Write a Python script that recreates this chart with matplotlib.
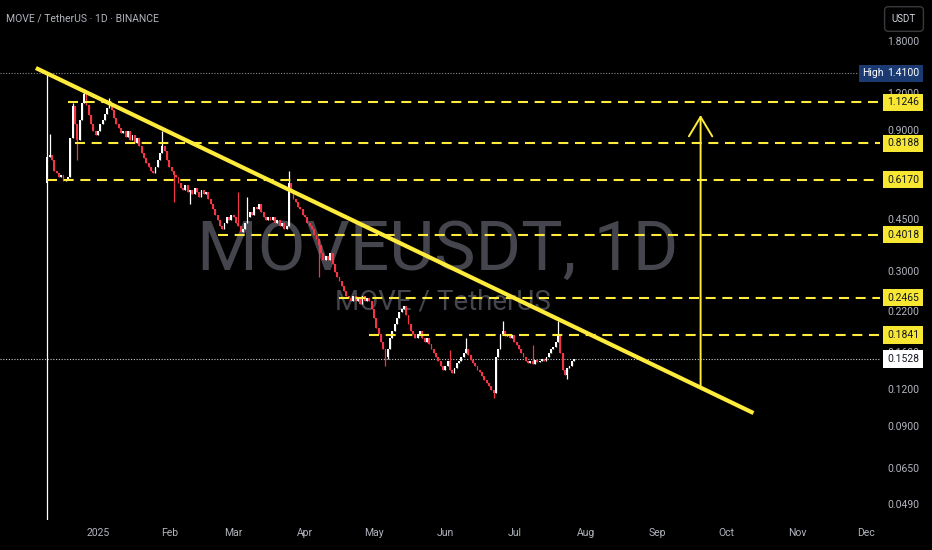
import datetime as dt
import matplotlib
matplotlib.use("Agg")
import matplotlib.pyplot as plt
import matplotlib.dates as mdates
import matplotlib.ticker as mticker

ui_font = ['Liberation Sans Narrow', 'Roboto', 'DejaVu Sans']
plt.rcParams['font.family'] = ui_font

# ---- data (daily MOVE/USDT) ----
start_date = dt.date(2024, 12, 10)
first_open = 0.60
closes = [
    0.736, 0.75, 0.72, 0.66, 0.65, 0.63, 0.64, 0.61, 0.62, 0.63,
    0.85, 1.09, 0.95, 0.84, 0.98, 1.12, 1.20, 1.10, 1.02, 0.95,
    0.90, 0.87, 0.90, 0.95, 0.98, 1.03, 1.08, 1.12, 1.06, 1.00,
    0.95, 0.92, 0.89, 0.90, 0.86, 0.90, 0.84, 0.87, 0.82, 0.85,
    0.80, 0.76, 0.73, 0.70, 0.68, 0.66, 0.65, 0.68, 0.72, 0.76,
    0.80, 0.77, 0.72, 0.68, 0.66, 0.64, 0.63, 0.60, 0.58, 0.57,
    0.59, 0.56, 0.57, 0.55, 0.58, 0.56, 0.54, 0.57, 0.55, 0.56,
    0.53, 0.51, 0.49, 0.47, 0.45, 0.43, 0.42, 0.44, 0.46, 0.45,
    0.47, 0.46, 0.44, 0.43, 0.41, 0.42, 0.44, 0.46, 0.48, 0.47,
    0.50, 0.49, 0.51, 0.48, 0.46, 0.45, 0.46, 0.45, 0.46, 0.44,
    0.45, 0.43, 0.44, 0.42, 0.43, 0.60, 0.56, 0.53, 0.52, 0.50,
    0.49, 0.47, 0.46, 0.44, 0.43, 0.42, 0.40, 0.39, 0.37, 0.35,
    0.33, 0.34, 0.33, 0.35, 0.32, 0.30, 0.29, 0.28, 0.27, 0.26,
    0.25, 0.245, 0.24, 0.25, 0.24, 0.245, 0.235, 0.25, 0.24, 0.245,
    0.24, 0.225, 0.21, 0.195, 0.185, 0.175, 0.165, 0.155, 0.165, 0.18,
    0.19, 0.20, 0.21, 0.22, 0.225, 0.23, 0.215, 0.20, 0.19, 0.185,
    0.18, 0.185, 0.19, 0.18, 0.175, 0.18, 0.172, 0.165, 0.16, 0.155,
    0.15, 0.145, 0.14, 0.145, 0.15, 0.14, 0.137, 0.142, 0.148, 0.15,
    0.155, 0.16, 0.165, 0.158, 0.152, 0.148, 0.145, 0.14, 0.138, 0.134,
    0.13, 0.127, 0.124, 0.12, 0.117, 0.155, 0.165, 0.185, 0.19, 0.183,
    0.185, 0.18, 0.184, 0.175, 0.17, 0.165, 0.16, 0.155, 0.15, 0.148,
    0.15, 0.147, 0.152, 0.149, 0.15, 0.153, 0.151, 0.155, 0.16, 0.165,
    0.168, 0.175, 0.186, 0.16, 0.14, 0.135, 0.142, 0.145, 0.150, 0.1528,
]
# visible wicks (day index -> price)
wick_high = {0: 1.41, 1: 0.88, 11: 1.12, 16: 1.25, 27: 1.16, 50: 0.90,
             83: 0.56, 87: 0.54, 105: 0.66, 175: 0.164, 182: 0.18,
             198: 0.205, 211: 0.171, 222: 0.205}
wick_low = {0: 0.040, 13: 0.72, 55: 0.52, 62: 0.51, 118: 0.29,
            147: 0.145, 148: 0.153, 194: 0.113, 226: 0.131}

levels = [1.1246, 0.8188, 0.6170, 0.4018, 0.2465, 0.1841]
level_starts = [dt.date(2024, 12, 19), dt.date(2024, 12, 22), dt.date(2024, 12, 10),
                dt.date(2025, 2, 22), dt.date(2025, 4, 16), dt.date(2025, 4, 29)]
high_price = 1.41
last_price = closes[-1]

trend_dates = [dt.date(2024, 12, 5), dt.date(2025, 10, 13)]
trend_prices = [1.47, 0.1004]
arrow_date = dt.date(2025, 9, 20)
arrow_prices = [0.122, 1.02]

price_ticks = [1.8, 1.2, 0.9, 0.45, 0.3, 0.22, 0.16, 0.12, 0.09, 0.065, 0.049]

# ---- colours ----
bg = '#000000'
up_col = '#FFFFFF'
dn_col = '#F23645'
yellow = '#FFEB3B'
txt_col = '#B2B5BE'

fig = plt.figure(figsize=(9.32, 5.5), dpi=100, facecolor=bg)
ax = fig.add_axes([0, 30 / 550, 880 / 932, 520 / 550], facecolor=bg)
ax.set_yscale('log')
ax.set_ylim(0.0437, 2.495)
jan1 = mdates.date2num(dt.date(2025, 1, 1))
ax.set_xlim(jan1 - 42.6, jan1 + 340.0)
for s in ax.spines.values():
    s.set_visible(False)
ax.tick_params(axis='y', which='both', left=False, right=False,
               labelleft=False, labelright=False)


def month_label(v, pos):
    d = mdates.num2date(v)
    if d.year < 2025:
        return ''
    return '%d' % d.year if d.month == 1 else d.strftime('%b')


ax.xaxis.set_major_locator(mdates.MonthLocator())
ax.xaxis.set_major_formatter(mticker.FuncFormatter(month_label))
ax.tick_params(axis='x', which='both', length=0, colors=txt_col, labelsize=7.5, pad=6)

# watermark
ax.text(0.4977, 0.481, 'MOVEUSDT, 1D', transform=ax.transAxes, ha='center', va='baseline',
        fontsize=50, color='#45464d', zorder=0)
ax.text(0.503, 0.404, 'MOVE / TetherUS', transform=ax.transAxes, ha='center', va='baseline',
        fontsize=20, color='#45464d', zorder=0)

# candles
xs = [mdates.date2num(start_date + dt.timedelta(days=i)) for i in range(len(closes))]
opens = [first_open] + closes[:-1]
for i, (x, o, c) in enumerate(zip(xs, opens, closes)):
    col = up_col if c >= o else dn_col
    hi = wick_high.get(i, max(o, c))
    lo = wick_low.get(i, min(o, c))
    ax.vlines(x, lo, hi, color=col, lw=0.9, zorder=3)
    ax.bar(x, abs(c - o), bottom=min(o, c), width=0.85, color=col, lw=0, zorder=3)

# horizontal levels
xmax = ax.get_xlim()[1]
for lv, d in zip(levels, level_starts):
    ax.hlines(lv, mdates.date2num(d), xmax, color=yellow, lw=1.5,
              linestyle=(0, (4.8, 3.2)), zorder=4)
ax.axhline(high_price, color='#8a8d96', lw=0.8, linestyle=(0, (1, 1.5)), zorder=2)
ax.axhline(last_price, color='#c9ccd4', lw=0.8, linestyle=(0, (1, 1.5)), zorder=2)

# trendline and arrow
ax.plot([mdates.date2num(d) for d in trend_dates], trend_prices, color=yellow,
        lw=3.0, solid_capstyle='butt', zorder=5)
arr_x = mdates.date2num(arrow_date)
ax.annotate('', xy=(arr_x, arrow_prices[1]), xytext=(arr_x, arrow_prices[0]),
            arrowprops=dict(arrowstyle='->,head_length=0.7,head_width=0.42',
                            color=yellow, lw=1.4, mutation_scale=20,
                            shrinkA=0, shrinkB=0), zorder=5)

# price scale
lab_x = 919 / 880
ytrans = ax.get_yaxis_transform()
for t in price_ticks:
    ax.text(lab_x, t, f'{t:.4f}', transform=ytrans, ha='right', va='center',
            fontsize=7.5, color=txt_col, clip_on=False, zorder=6)
for lv in levels:
    ax.text(lab_x, lv, f'{lv:.4f}', transform=ytrans, ha='right', va='center',
            fontsize=7.5, color='#131722', clip_on=False, zorder=7,
            bbox=dict(boxstyle='square,pad=0.35', fc='#F7E733', ec='none'))
ax.text(lab_x, last_price, f'{last_price:.4f}', transform=ytrans, ha='right', va='center',
        fontsize=7.5, color='#131722', clip_on=False, zorder=7,
        bbox=dict(boxstyle='square,pad=0.35', fc='#FFFFFF', ec='none'))
ax.text(lab_x, high_price, f'{high_price:.4f}', transform=ytrans, ha='right', va='center',
        fontsize=7.5, color='#FFFFFF', clip_on=False, zorder=7,
        bbox=dict(boxstyle='square,pad=0.35', fc='#1C3A72', ec='none'))
ax.text(884 / 880, high_price, 'High', transform=ytrans, ha='right', va='center',
        fontsize=7.5, color='#FFFFFF', clip_on=False, zorder=7,
        bbox=dict(boxstyle='square,pad=0.35', fc='#1C3A72', ec='none'))

# header texts
fig.text(6 / 932, 1 - 18 / 550, 'MOVE / TetherUS · 1D · BINANCE', color=txt_col,
         fontsize=7.5, va='center', ha='left')
fig.text(904 / 932, 1 - 19 / 550, 'USDT', color='#D1D4DC', fontsize=7,
         ha='center', va='center',
         bbox=dict(boxstyle='round,pad=0.75,rounding_size=0.4', fc=bg, ec='#3a3a3e', lw=1))

fig.savefig('out.png', dpi=100, facecolor=bg)
